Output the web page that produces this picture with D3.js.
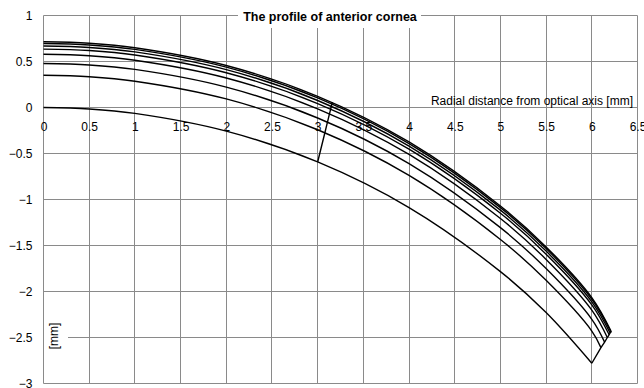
<!DOCTYPE html>
<html>
<head>
<meta charset="utf-8">
<script src="https://cdn.jsdelivr.net/npm/d3@7"></script>
<style>
  body { margin: 0; background: #fff; }
  svg { display: block; }
  text { font-family: "Liberation Sans", Arial, sans-serif; fill: #000; }
</style>
</head>
<body>
<svg id="chart" width="644" height="388"></svg>
<script>
// chart texts
const titleText = "The profile of anterior cornea";
const xAxisTitle = "Radial distance from optical axis [mm]";
const yAxisTitle = "[mm]";

// tick labels
const xTicks = [0, 0.5, 1, 1.5, 2, 2.5, 3, 3.5, 4, 4.5, 5, 5.5, 6, 6.5];
const yTicks = [-3, -2.5, -2, -1.5, -1, -0.5, 0, 0.5, 1];

// profiles at these radial positions
const sampleX = [0, 0.5, 1, 2, 3, 4, 5, 5.5, 6];
const profile1 = [0.714, 0.698, 0.650, 0.457, 0.122, -0.374, -1.070, -1.515, -2.066];
const profile2 = [0.696, 0.680, 0.632, 0.439, 0.104, -0.392, -1.088, -1.533, -2.084];
const profile3 = [0.668, 0.652, 0.604, 0.411, 0.076, -0.420, -1.116, -1.561, -2.112];
const profile4 = [0.635, 0.619, 0.571, 0.378, 0.043, -0.453, -1.149, -1.594, -2.145];
const profile5 = [0.578, 0.562, 0.514, 0.321, -0.014, -0.510, -1.206, -1.651, -2.202];
const profile6 = [0.478, 0.462, 0.414, 0.221, -0.114, -0.610, -1.306, -1.751, -2.302];
const profile7 = [0.350, 0.334, 0.286, 0.093, -0.242, -0.738, -1.434, -1.879, -2.430];
const profile8 = [0.000, -0.016, -0.064, -0.257, -0.592, -1.088, -1.784, -2.229, -2.780];

// where each profile ends (outer edge)
const endX = [6.21, 6.21, 6.20, 6.19, 6.17, 6.14, 6.10, 6.00];
const endY = [-2.43, -2.44, -2.45, -2.47, -2.50, -2.55, -2.61, -2.78];

// the joining line near r = 3
const midX = [3.161, 3.157, 3.150, 3.143, 3.130, 3.108, 3.079, 3.000];
const midY = [0.058, 0.041, 0.016, -0.014, -0.066, -0.157, -0.274, -0.592];

const profiles = [profile1, profile2, profile3, profile4, profile5, profile6, profile7, profile8];

const svg = d3.select("#chart");
const width = 644, height = 388;
svg.append("rect").attr("width", width).attr("height", height).attr("fill", "#fff");

const x = d3.scaleLinear().domain([0, 6.5]).range([43.5, 637.5]);
const y = d3.scaleLinear().domain([-3, 1]).range([383.5, 15.5]);

const gridColor = "#8a8a8a";

// grid
const grid = svg.append("g");
grid.selectAll("line.v")
  .data(xTicks)
  .enter().append("line")
  .attr("class", "v")
  .attr("x1", d => Math.round(x(d) - 0.5) + 0.5)
  .attr("x2", d => Math.round(x(d) - 0.5) + 0.5)
  .attr("y1", y(1))
  .attr("y2", y(-3))
  .attr("stroke", gridColor)
  .attr("stroke-width", 1);
grid.selectAll("line.h")
  .data(yTicks)
  .enter().append("line")
  .attr("class", "h")
  .attr("x1", x(0))
  .attr("x2", x(6.5))
  .attr("y1", d => y(d))
  .attr("y2", d => y(d))
  .attr("stroke", gridColor)
  .attr("stroke-width", 1);

// y axis labels
const yAxis = d3.axisLeft(y)
  .tickValues(yTicks)
  .tickSize(0)
  .tickPadding(11)
  .tickFormat(d3.format("~g"));
const gy = svg.append("g").attr("transform", `translate(${x(0)},0)`).call(yAxis);
gy.select(".domain").remove();
gy.selectAll("text").attr("font-size", 12).attr("font-family", null);

// x axis labels sit along y = 0
const xAxis = d3.axisBottom(x)
  .tickValues(xTicks)
  .tickSize(0)
  .tickPadding(15)
  .tickFormat(d3.format("~g"));
const gx = svg.append("g").attr("transform", `translate(0,${y(0)})`).call(xAxis);
gx.select(".domain").remove();
gx.selectAll("text").attr("font-size", 12).attr("font-family", null);

// profile curves
const line = d3.line()
  .x(d => x(d[0]))
  .y(d => y(d[1]))
  .curve(d3.curveCatmullRom.alpha(0.5));

profiles.forEach((p, i) => {
  const pts = sampleX.map((sx, j) => [sx, p[j]]).filter(d => d[0] < endX[i]);
  pts.push([endX[i], endY[i]]);
  svg.append("path")
    .attr("d", line(pts))
    .attr("fill", "none")
    .attr("stroke", "#000")
    .attr("stroke-width", 1.4);
});

// joining lines
const straight = d3.line().x(d => x(d[0])).y(d => y(d[1]));
svg.append("path")
  .attr("d", straight(midX.map((v, i) => [v, midY[i]])))
  .attr("fill", "none").attr("stroke", "#000").attr("stroke-width", 1.4);
svg.append("path")
  .attr("d", straight(endX.map((v, i) => [v, endY[i]])))
  .attr("fill", "none").attr("stroke", "#000").attr("stroke-width", 1.4);

// title with white backing
svg.append("rect")
  .attr("x", 238).attr("y", 4).attr("width", 183).attr("height", 24)
  .attr("fill", "#fff");
svg.append("text")
  .attr("x", 330).attr("y", 21)
  .attr("text-anchor", "middle")
  .attr("font-size", 12.5)
  .attr("font-weight", "bold")
  .text(titleText);

// x axis title
svg.append("text")
  .attr("x", 633).attr("y", 104.5)
  .attr("text-anchor", "end")
  .attr("font-size", 12)
  .text(xAxisTitle);

// y axis title
svg.append("rect")
  .attr("x", 44).attr("y", 320).attr("width", 24).attr("height", 33)
  .attr("fill", "#fff");
svg.append("text")
  .attr("transform", "translate(54,336) rotate(-90)")
  .attr("text-anchor", "middle")
  .attr("dy", "0.35em")
  .attr("font-size", 12)
  .text(yAxisTitle);
</script>
</body>
</html>
